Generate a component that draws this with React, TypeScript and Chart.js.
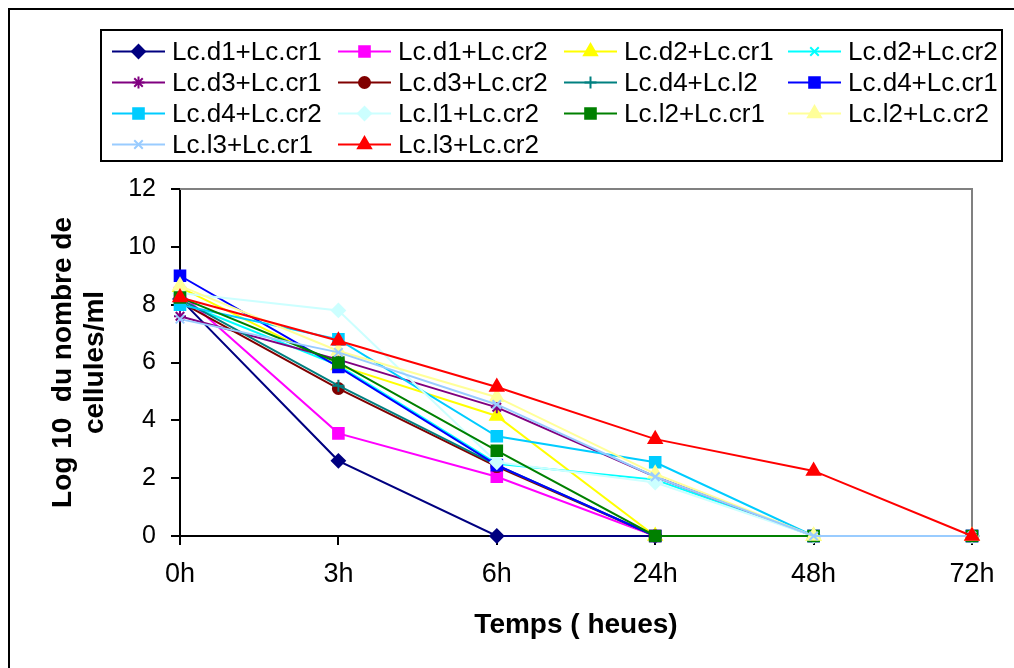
import React, { useEffect, useRef } from 'react';
import { Chart, registerables } from 'chart.js';
import { drawPoint } from 'chart.js/helpers';

Chart.register(...registerables);

// ---- data ----
const categories = ['0h', '3h', '6h', '24h', '48h', '72h'];
const yTicks = [0, 2, 4, 6, 8, 10, 12];

const d1cr1 = [8.2, 2.6, 0, 0, 0, 0];
const d1cr2 = [8.4, 3.55, 2.05, 0, 0, 0];
const d2cr1 = [8.6, 5.9, 4.15, 0, 0, 0];
const d2cr2 = [8.1, 5.9, 2.5, 1.95, 0, 0];
const d3cr1 = [7.6, 6.1, 4.45, 2.05, 0, 0];
const d3cr2 = [8.1, 5.1, 2.4, 0, 0, 0];
const d4l2 = [8.2, 5.2, 2.45, 0, 0, 0];
const d4cr1 = [9.0, 5.85, 2.45, 0, 0, 0];
const d4cr2 = [8.0, 6.8, 3.45, 2.55, 0, 0];
const l1cr2 = [8.4, 7.8, 2.55, 1.85, 0, 0];
const l2cr1 = [8.25, 6.0, 2.95, 0, 0, 0];
const l2cr2 = [8.65, 6.4, 4.8, 2.15, 0, 0];
const l3cr1 = [7.5, 6.35, 4.55, 2.05, 0, 0];
const l3cr2 = [8.25, 6.75, 5.15, 3.35, 2.25, 0];

const seriesNames = [
  'Lc.d1+Lc.cr1', 'Lc.d1+Lc.cr2', 'Lc.d2+Lc.cr1', 'Lc.d2+Lc.cr2',
  'Lc.d3+Lc.cr1', 'Lc.d3+Lc.cr2', 'Lc.d4+Lc.l2', 'Lc.d4+Lc.cr1',
  'Lc.d4+Lc.cr2', 'Lc.l1+Lc.cr2', 'Lc.l2+Lc.cr1', 'Lc.l2+Lc.cr2',
  'Lc.l3+Lc.cr1', 'Lc.l3+Lc.cr2',
];
const seriesValues = [
  d1cr1, d1cr2, d2cr1, d2cr2, d3cr1, d3cr2, d4l2,
  d4cr1, d4cr2, l1cr2, l2cr1, l2cr2, l3cr1, l3cr2,
];

// ---- styles ----
const seriesColors = [
  '#000080', '#FF00FF', '#FFFF00', '#00FFFF',
  '#800080', '#800000', '#008080', '#0000FF',
  '#00CCFF', '#CCFFFF', '#008000', '#FFFF99',
  '#99CCFF', '#FF0000',
];
const seriesMarkers = [
  'rectRot', 'rect', 'triangle', 'crossRot',
  'star', 'circle', 'cross', 'rect',
  'rect', 'rectRot', 'rect', 'triangle',
  'crossRot', 'triangle',
];
const markerRadius: Record<string, number> = {
  rectRot: 6.5, rect: 7.5, triangle: 7.5, crossRot: 6, star: 6, circle: 5.5, cross: 6,
};

const FONT = "'Liberation Sans', Arial, Helvetica, sans-serif";

const plotFramePlugin = {
  id: 'plotFrame',
  beforeDatasetsDraw(chart: any) {
    const { ctx, chartArea } = chart;
    ctx.save();
    ctx.strokeStyle = '#808080';
    ctx.lineWidth = 2;
    ctx.beginPath();
    ctx.moveTo(chartArea.left, chartArea.top);
    ctx.lineTo(chartArea.right, chartArea.top);
    ctx.lineTo(chartArea.right, chartArea.bottom);
    ctx.stroke();
    ctx.restore();
  },
};

const boxLegendPlugin = {
  id: 'boxLegend',
  afterDraw(chart: any) {
    const { ctx } = chart;
    const colX = [112, 338, 564, 788];
    const rowY = [51.5, 82.5, 113.5, 144.5];
    ctx.save();
    ctx.strokeStyle = '#000';
    ctx.lineWidth = 2;
    ctx.strokeRect(101, 30, 901, 131);
    chart.data.datasets.forEach((ds: any, i: number) => {
      const x = colX[i % 4];
      const y = rowY[Math.floor(i / 4)];
      ctx.strokeStyle = ds.borderColor;
      ctx.fillStyle = ds.backgroundColor;
      ctx.lineWidth = 2;
      ctx.beginPath();
      ctx.moveTo(x, y);
      ctx.lineTo(x + 53, y);
      ctx.stroke();
      drawPoint(ctx, {
        pointStyle: ds.pointStyle,
        radius: ds.pointRadius,
        rotation: 0,
        borderWidth: ds.pointBorderWidth,
      } as any, x + 26.5, y);
      ctx.fillStyle = '#000';
      ctx.font = `26px ${FONT}`;
      ctx.textBaseline = 'middle';
      ctx.textAlign = 'left';
      ctx.fillText(ds.label, x + 60, y + 1);
    });
    ctx.restore();
  },
};

export default function App() {
  const canvasRef = useRef<HTMLCanvasElement>(null);

  useEffect(() => {
    if (!canvasRef.current) return;
    Chart.defaults.font.family = FONT;
    const datasets = seriesNames.map((name, i) => ({
      label: name,
      data: seriesValues[i],
      borderColor: seriesColors[i],
      backgroundColor: seriesColors[i],
      pointBackgroundColor: seriesColors[i],
      pointBorderColor: seriesColors[i],
      pointStyle: seriesMarkers[i],
      pointRadius: markerRadius[seriesMarkers[i]],
      pointHoverRadius: markerRadius[seriesMarkers[i]],
      pointBorderWidth: 2,
      borderWidth: 2,
      tension: 0,
      fill: false,
      clip: false,
      order: -i,
    }));
    const chart = new Chart(canvasRef.current, {
      type: 'line',
      data: { labels: categories, datasets },
      options: {
        animation: false,
        responsive: false,
        devicePixelRatio: 1,
        events: [],
        layout: { padding: { left: 10, top: 189, right: 42, bottom: 0 } },
        plugins: {
          legend: { display: false },
          tooltip: { enabled: false },
          title: { display: false },
        },
        scales: {
          x: {
            type: 'category',
            offset: false,
            afterFit: (scale: any) => { scale.height = 132; },
            grid: { drawOnChartArea: false, drawTicks: true, tickLength: 9, color: '#000', lineWidth: 2 },
            border: { display: true, color: '#000', width: 2 },
            ticks: { color: '#000', font: { size: 27 }, padding: 13, maxRotation: 0, autoSkip: false },
            title: {
              display: true,
              text: 'Temps ( heues)',
              color: '#000',
              font: { size: 28, weight: 'bold' },
              padding: { top: 0, bottom: 26 },
            },
          },
          y: {
            type: 'linear',
            min: 0,
            max: 12,
            afterFit: (scale: any) => { scale.width = 170; },
            afterBuildTicks: (scale: any) => { scale.ticks = yTicks.map((v) => ({ value: v })); },
            grid: { drawOnChartArea: false, drawTicks: true, tickLength: 9, color: '#000', lineWidth: 2 },
            border: { display: true, color: '#000', width: 2 },
            ticks: { color: '#000', font: { size: 25 }, padding: 15 },
            title: {
              display: true,
              text: ['Log 10  du nombre de', 'cellules/ml'],
              color: '#000',
              font: { size: 28, weight: 'bold', lineHeight: 1.15 },
              padding: { top: 37, bottom: 0 },
            },
          },
        },
      },
      plugins: [plotFramePlugin, boxLegendPlugin],
    } as any);
    return () => chart.destroy();
  }, []);

  return (
    <div style={{ position: 'fixed', left: 0, top: 0, width: 1014, height: 668, overflow: 'hidden', background: '#fff' }}>
      <div style={{ position: 'absolute', left: 8, top: 8, width: 1100, height: 800, border: '2px solid #000', boxSizing: 'border-box' }} />
      <canvas ref={canvasRef} width={1014} height={668} style={{ position: 'absolute', left: 0, top: 0, width: 1014, height: 668 }} />
    </div>
  );
}
